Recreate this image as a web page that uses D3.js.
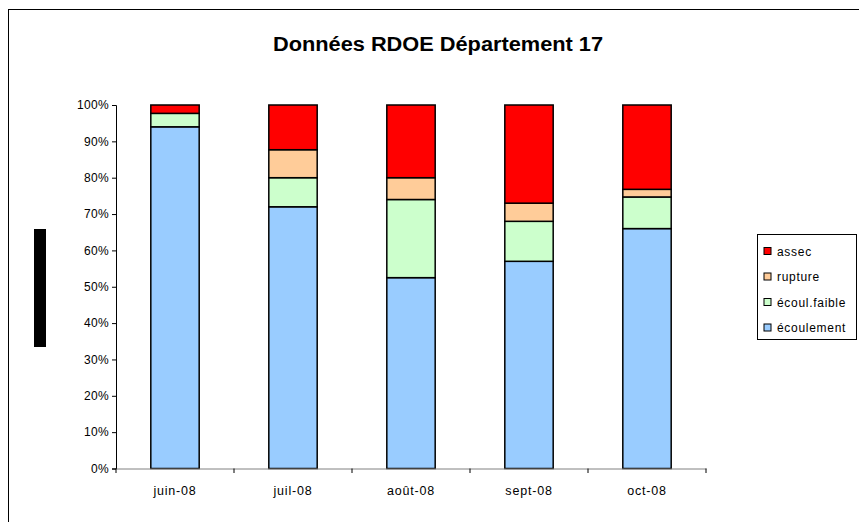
<!DOCTYPE html>
<html>
<head>
<meta charset="utf-8">
<script src="https://cdn.jsdelivr.net/npm/d3@7"></script>
<style>
  body { margin: 0; background: #fff; }
  svg { display: block; font-family: "Liberation Sans", Arial, sans-serif; }
</style>
</head>
<body>
<div id="chart"></div>
<script>
// Data (percent of stations per state)
const months = ['juin-08', 'juil-08', 'août-08', 'sept-08', 'oct-08'];
const seriesNames = ['écoulement', 'écoul.faible', 'rupture', 'assec'];
const ecoulement = [94, 72, 52.5, 57, 66];
const ecoulFaible = [3.7, 8, 21.5, 11, 8.7];
const rupture = [0, 7.7, 6, 5, 2.1];
const assec = [2.3, 12.3, 20, 27, 23.2];
const yTicks = [0, 10, 20, 30, 40, 50, 60, 70, 80, 90, 100];

const colors = ['#99ccff', '#ccffcc', '#ffcc99', '#ff0000'];

const width = 859, height = 522;

const svg = d3.select('#chart')
  .append('svg')
  .attr('width', width)
  .attr('height', height);

// chart frame (runs off the right/bottom edge like the original)
svg.append('rect')
  .attr('x', 8.5).attr('y', 9.5)
  .attr('width', 900).attr('height', 600)
  .attr('fill', '#fff')
  .attr('stroke', '#000')
  .attr('stroke-width', 1);

// black marker on the left
svg.append('rect')
  .attr('x', 34).attr('y', 229)
  .attr('width', 12).attr('height', 118)
  .attr('fill', '#000');

// Title
svg.append('text')
  .attr('x', 438).attr('y', 51)
  .attr('text-anchor', 'middle')
  .attr('font-size', 20)
  .attr('font-weight', 'bold')
  .attr('textLength', 330)
  .attr('lengthAdjust', 'spacingAndGlyphs')
  .text('Données RDOE Département 17');

const table = months.map((m, i) => ({
  month: m,
  'écoulement': ecoulement[i],
  'écoul.faible': ecoulFaible[i],
  'rupture': rupture[i],
  'assec': assec[i]
}));

const stacked = d3.stack().keys(seriesNames)(table);

const x = d3.scaleBand()
  .domain(months)
  .range([116, 706])
  .paddingInner(0.59)
  .paddingOuter(0.295);

const y = d3.scaleLinear()
  .domain([0, 100])
  .range([468.5, 105]);

// Bars
svg.append('g')
  .selectAll('g')
  .data(stacked)
  .enter()
  .append('g')
  .attr('fill', (d, i) => colors[i])
  .selectAll('rect')
  .data(d => d)
  .enter()
  .append('rect')
  .attr('x', d => x(d.data.month))
  .attr('y', d => y(d[1]))
  .attr('width', x.bandwidth())
  .attr('height', d => y(d[0]) - y(d[1]))
  .attr('stroke', '#000')
  .attr('stroke-width', d => (d[1] - d[0]) > 0 ? 1.5 : 0);

// Y axis
const yAxis = svg.append('g')
  .attr('transform', 'translate(116,0)')
  .call(d3.axisLeft(y).tickValues(yTicks).tickFormat(d => d + '%').tickSize(4).tickPadding(3));
yAxis.select('.domain').attr('stroke', '#000');
yAxis.selectAll('.tick line').attr('stroke', '#000');
yAxis.selectAll('text').attr('font-size', 12).attr('fill', '#000')
  .attr('letter-spacing', 0.3)
  .attr('font-family', '"Liberation Sans", Arial, sans-serif');

// X axis
const xAxis = svg.append('g')
  .attr('transform', 'translate(0,468.5)')
  .call(d3.axisBottom(x).tickSize(0).tickPadding(18));
xAxis.select('.domain').attr('stroke', '#808080');
xAxis.selectAll('text').attr('font-size', 12.5).attr('fill', '#000')
  .attr('letter-spacing', 0.8)
  .attr('font-family', '"Liberation Sans", Arial, sans-serif');

// category separators on x axis
const sep = months.map((m, i) => x(m) - x.step() * x.paddingOuter());
sep.push(706);
svg.append('g')
  .selectAll('line')
  .data(sep)
  .enter()
  .append('line')
  .attr('x1', d => d).attr('x2', d => d)
  .attr('y1', 468.5).attr('y2', 473)
  .attr('stroke', '#000');

// Legend
const legendOrder = ['assec', 'rupture', 'écoul.faible', 'écoulement'];
const legendY = [251, 276.5, 302, 327.5];
const legend = svg.append('g');
legend.append('rect')
  .attr('x', 757.5).attr('y', 234.5)
  .attr('width', 99).attr('height', 105)
  .attr('fill', '#fff')
  .attr('stroke', '#000');
const items = legend.selectAll('g.item')
  .data(legendOrder)
  .enter()
  .append('g')
  .attr('class', 'item')
  .attr('transform', (d, i) => `translate(764,${legendY[i]})`);
items.append('rect')
  .attr('x', 0).attr('y', -3.5)
  .attr('width', 7).attr('height', 7)
  .attr('fill', d => colors[seriesNames.indexOf(d)])
  .attr('stroke', '#000')
  .attr('stroke-width', 1);
items.append('text')
  .attr('x', 13).attr('y', 4.5)
  .attr('font-size', 12)
  .attr('letter-spacing', 0.7)
  .text(d => d);
</script>
</body>
</html>
